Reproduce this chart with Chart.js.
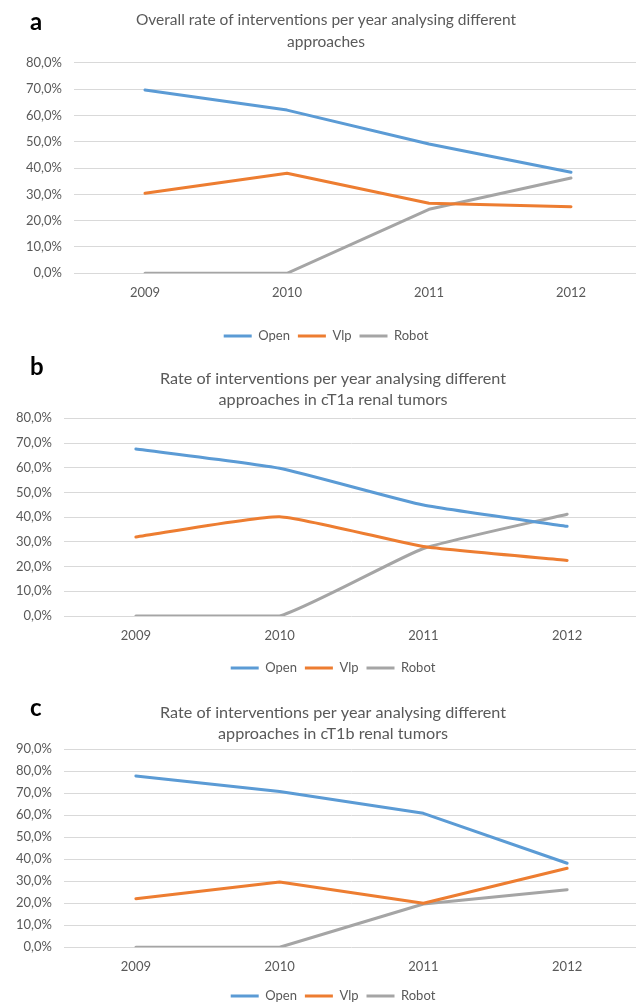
<!DOCTYPE html>
<html>
<head>
<meta charset="utf-8">
<script src="https://cdn.jsdelivr.net/npm/chart.js@4.4.1/dist/chart.umd.min.js"></script>
<style>
  html, body { margin: 0; padding: 0; background: #fff; }
  body { width: 636px; height: 1003px; overflow: hidden; position: relative; font-family: Lato, sans-serif; }
  .panel { position: absolute; left: 0; }
  .letter { position: absolute; left: 30px; font: bold 24px Lato, sans-serif; color: #000; line-height: 24px; }
</style>
</head>
<body>
<div class="panel" style="top:0"><canvas id="chartA" width="666" height="357"></canvas></div>
<div class="panel" style="top:356px"><canvas id="chartB" width="666" height="330"></canvas></div>
<div class="panel" style="top:683px"><canvas id="chartC" width="666" height="333"></canvas></div>
<div class="letter" style="top:9px">a</div>
<div class="letter" style="top:354px">b</div>
<div class="letter" style="top:695px">c</div>
<script>
const years = ["2009", "2010", "2011", "2012"];
const seriesNames = ["Open", "Vlp", "Robot"];

const titleA = ["Overall rate of interventions per year analysing different", "approaches"];
const openA = [69.6, 62.0, 49.1, 38.4];
const vlpA = [30.4, 38.0, 26.6, 25.3];
const robotA = [0, 0, 24.3, 36.2];

const titleB = ["Rate of interventions per year analysing different", "approaches in cT1a renal tumors"];
const openB = [67.6, 59.8, 44.9, 36.3];
const vlpB = [32.0, 40.2, 28.1, 22.5];
const robotB = [0, 0, 27.3, 41.2];

const titleC = ["Rate of interventions per year analysing different", "approaches in cT1b renal tumors"];
const openC = [77.9, 70.8, 60.9, 38.2];
const vlpC = [22.1, 29.7, 20.0, 35.9];
const robotC = [0, 0, 19.7, 26.2];

const colors = ["#5B9BD5", "#ED7D31", "#A5A5A5"];
const textColor = "#595959";

Chart.defaults.font.family = "Lato, sans-serif";
Chart.defaults.color = textColor;

const pct = (v) => v.toFixed(1).replace(".", ",") + "%";

const makeChart = (id, title, data, s) => {
  const datasets = data.map((arr, i) => ({
    label: seriesNames[i],
    data: arr,
    borderColor: colors[i],
    backgroundColor: colors[i],
    borderWidth: 3,
    pointRadius: 0,
    borderCapStyle: "round",
    borderJoinStyle: "round",
    tension: s.tension || 0,
  }));

  return new Chart(document.getElementById(id), {
    type: "line",
    data: { labels: years, datasets },
    options: {
      responsive: false,
      animation: false,
      layout: { padding: { top: 0, bottom: s.padBottom, left: 0, right: s.padRight } },
      plugins: {
        tooltip: { enabled: false },
        title: {
          display: true,
          text: title,
          color: textColor,
          font: { size: s.titleSize, weight: "normal", lineHeight: s.titleLH },
          padding: { top: s.titleTop, bottom: s.titleBottom },
        },
        legend: {
          position: "bottom",
          labels: {
            usePointStyle: true,
            pointStyle: "line",
            pointStyleWidth: 28,
            padding: 8,
            color: textColor,
            font: { size: 13 },
          },
        },
      },
      scales: {
        x: {
          offset: true,
          grid: { display: false },
          border: { display: false },
          ticks: { padding: s.xPad, font: { size: 13 }, color: textColor },
          afterFit: (scale) => { scale.height = s.xHeight; },
        },
        y: {
          min: 0,
          max: s.yMax,
          grid: { color: "#D9D9D9", drawTicks: false },
          border: { display: false },
          ticks: { stepSize: 10, padding: 12, font: { size: 13 }, color: textColor, callback: pct },
          afterFit: (scale) => { scale.width = s.yWidth; },
        },
        // empty strip right of the plot, so the title and legend centre where the original does
        gap: {
          type: "linear",
          position: "right",
          grid: { display: false },
          border: { display: false },
          ticks: { display: false },
          afterFit: (scale) => { scale.width = s.gapRight; },
        },
      },
    },
  });
};

makeChart("chartA", titleA, [openA, vlpA, robotA],
  { padRight: 14, gapRight: 10, padBottom: 4.5, titleSize: 15.5, titleLH: 22 / 15.5, titleTop: 9, titleBottom: 9.7,
    xPad: 4, xHeight: 48.2, yMax: 80, yWidth: 74 });
makeChart("chartB", titleB, [openB, vlpB, robotB],
  { padRight: 0, gapRight: 27, padBottom: 1.5, titleSize: 16.2, titleLH: 21 / 16.2, titleTop: 12.5, titleBottom: 7.8,
    xPad: 4.5, xHeight: 37.5, yMax: 80, yWidth: 64, tension: 0.15 });
makeChart("chartC", titleC, [openC, vlpC, robotC],
  { padRight: 0, gapRight: 27, padBottom: 3.5, titleSize: 16.2, titleLH: 21 / 16.2, titleTop: 19.5, titleBottom: 4.8,
    xPad: 4, xHeight: 34.2, yMax: 90, yWidth: 64 });
</script>
</body>
</html>
